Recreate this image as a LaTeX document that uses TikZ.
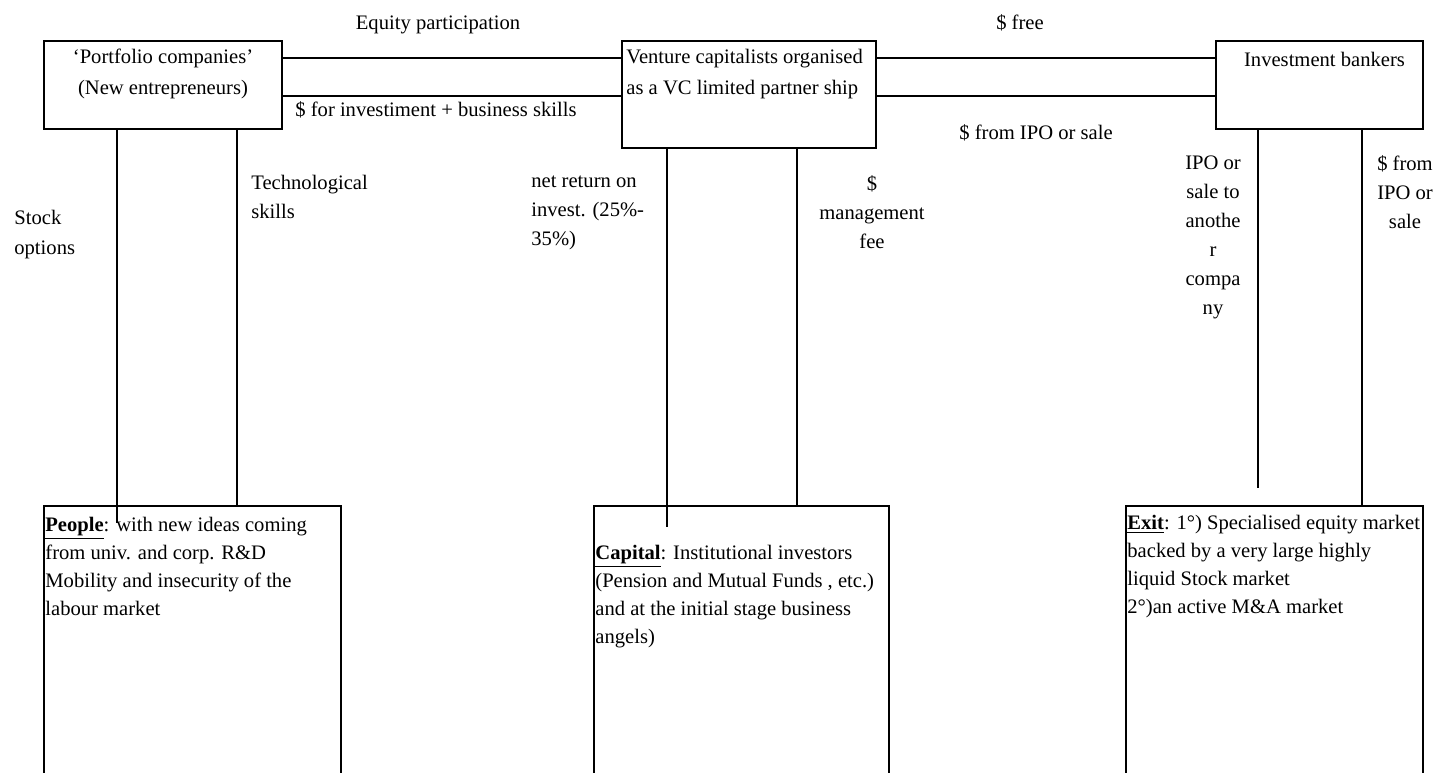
\documentclass[tikz,border=0pt]{standalone}
\usepackage{fontspec}
\setmainfont{Liberation Serif}
\usetikzlibrary{positioning}
\tikzset{textbox/.style={draw=none,color=black,inner sep=0pt,font=\fontsize{10.3}{14.5}\selectfont}}

\begin{document}
\begin{tikzpicture}[x=0.5pt,y=-0.5pt]
        \tikzstyle{actor}=[rectangle,draw,line width=1pt,inner sep=0pt,anchor=north west];
        \tikzstyle{link}=[line width=1pt];
        \useasboundingbox (0,0) rectangle (1436,772);

        \node[actor,minimum width=119pt,minimum height=44pt] (pc) at (43,40) {};
        \node[textbox,align=center,font=\fontsize{10.3}{15.5}\selectfont,below=4.5pt of pc.north] (pcpc) {`Portfolio companies'\\(New entrepreneurs)};

        \node[actor,minimum width=127pt,minimum height=53.5pt] (vc) at (621,40) {};
        \node[textbox,align=left,font=\fontsize{10.3}{15.5}\selectfont,anchor=north west] (vcvc) at ([xshift=2.5pt,yshift=-4.5pt]vc.north west) {Venture capitalists organised\\as a VC limited partner ship};

        \node[actor,minimum width=103.5pt,minimum height=44pt] (ib) at (1215,40) {};
        \node[textbox,below=6pt of ib.north,xshift=2.5pt] (ibib) {Investment bankers};

        \node[actor,minimum width=148.5pt,minimum height=150pt] (ppl) at (43,505) {};
        \node[textbox,align=left,font=\fontsize{10.3}{14}\selectfont,anchor=north west] (pplppl) at ([xshift=1pt,yshift=-6pt]ppl.north west) {\underline{\textbf{People}}: with new ideas coming\\from univ. and corp. R\&D\\Mobility and insecurity of the\\labour market};

        \node[actor,minimum width=147.5pt,minimum height=150pt] (cap) at (593,505) {};
        \node[textbox,align=left,font=\fontsize{10.3}{14}\selectfont,anchor=north west] (capcap) at ([xshift=1pt,yshift=-20pt]cap.north west) {\underline{\textbf{Capital}}: Institutional investors\\(Pension and Mutual Funds , etc.)\\and at the initial stage business\\angels)};

        \node[actor,minimum width=148.5pt,minimum height=150pt] (ex) at (1125,505) {};
        \node[textbox,align=left,font=\fontsize{10.3}{14}\selectfont,anchor=north west] (exex) at ([xshift=1pt,yshift=-5pt]ex.north west) {\underline{\textbf{Exit}}: 1°) Specialised equity market\\backed by a very large highly\\liquid Stock market\\2°)an active M\&A market};

        \node[textbox,anchor=north] (pcvc1) at (438,15) {Equity participation};
        \node[textbox,anchor=north west] (pcvc2) at (295,101) {\$ for investiment + business skills};
        \node[textbox,anchor=north] (vcib1) at (1020,14) {\$ free};
        \node[textbox,anchor=north] (vcib2) at (1036,124) {\$ from IPO or sale};

        \node[textbox,align=left,font=\fontsize{10.3}{15}\selectfont,anchor=north west] (pcppl1) at (14,210) {Stock\\options};
        \node[textbox,align=left,anchor=north west] (pcppl2) at (251,175) {Technological\\skills};
        \node[textbox,align=left,anchor=north west] (vccap1) at (531,175) {net return on\\invest. (25\%-\\35\%)};
        \node[textbox,align=center,anchor=north] (vccap2) at (872,175) {\$\\management\\fee};
        \node[textbox,align=center,anchor=north] (ibex1) at (1213,155) {IPO or\\sale to\\anothe\\r\\compa\\ny};
        \node[textbox,align=center,anchor=north] (ibex2) at (1405,155) {\$ from\\IPO or\\sale};

        \draw[link] (pc.east |- 0,58) to (vc.west |- 0,58);
        \draw[link] (pc.east |- 0,96) to (vc.west |- 0,96);
        \draw[link] (vc.east |- 0,58) to (ib.west |- 0,58);
        \draw[link] (vc.east |- 0,96) to (ib.west |- 0,96);

        \draw[link,shorten >= -9pt] (pc.south -| 117,0) to (ppl.north -| 117,0);
        \draw[link] (pc.south -| 237,0) to (ppl.north -| 237,0);
        \draw[link,shorten >= -11pt] (vc.south -| 667,0) to (cap.north -| 667,0);
        \draw[link] (vc.south -| 797,0) to (cap.north -| 797,0);
        \draw[link,shorten >= 8.5pt] (ib.south -| 1258,0) to (ex.north -| 1258,0);
        \draw[link] (ib.south -| 1362,0) to (ex.north -| 1362,0);
    \end{tikzpicture}
\end{document}
